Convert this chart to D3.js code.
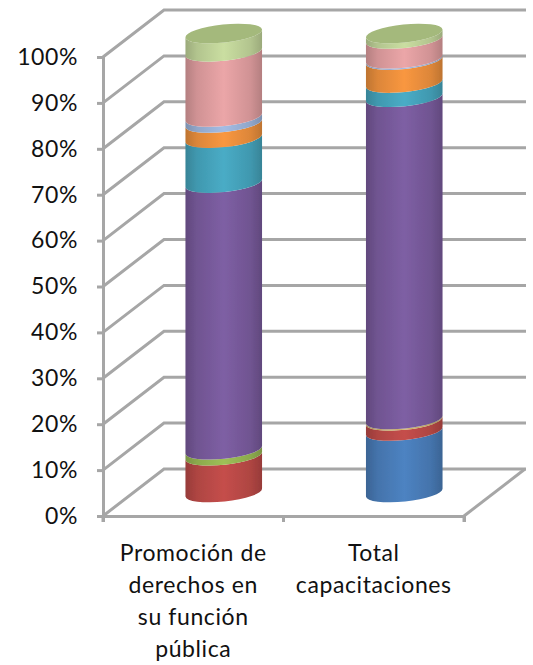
<!DOCTYPE html>
<html>
<head>
<meta charset="utf-8">
<script src="https://cdn.jsdelivr.net/npm/d3@7"></script>
<style>
  html, body { margin: 0; padding: 0; background: #fff; }
  svg { display: block; }
  text { font-family: Lato, "Open Sans", sans-serif; fill: #111; letter-spacing: 0.6px; }
</style>
</head>
<body>
<svg width="533" height="665"></svg>
<script>
var categories = ["Promoción de derechos en su función pública", "Total capacitaciones"];
var categoryLines = [["Promoción de", "derechos en", "su función", "pública"], ["Total", "capacitaciones"]];
var tickValues = [0, 10, 20, 30, 40, 50, 60, 70, 80, 90, 100];

var seriesNames = ["s1", "s2", "s3", "s4", "s5", "s6", "s7", "s8", "s9", "s10"];
var seriesColors = ["#4a7ebb", "#be4b48", "#98b954", "#c9b26b", "#7a5c9e", "#46a6bf", "#f0923e", "#9db5dc", "#e3a0a2", "#c3d69b"];
var promocion = [0, 8, 1.3, 0, 58.1, 9.8, 3.3, 1.3, 14.2, 4];
var total = [13.4, 2.2, 0, 0.3, 70.2, 3.1, 5, 0.3, 4.3, 1.2];

var svg = d3.select("svg");
var margin = { left: 103, right: 464, top: 57, bottom: 516 };
var depthX = 61, depthY = 47;
var grey = "#a6a6a6";

var x = d3.scaleBand().domain(categories).range([margin.left, margin.right]);
var y = d3.scaleLinear().domain([0, 100]).range([margin.bottom, margin.top]);
// the cylinders stand in the middle of the floor
var barY = d3.scaleLinear().domain([0, 100]).range([margin.bottom - depthY / 2, margin.top - depthY / 2]);

var rows = categories.map(function(c, i) {
  var row = { category: c };
  seriesNames.forEach(function(s, j) { row[s] = (i === 0 ? promocion : total)[j]; });
  return row;
});
var stacked = d3.stack().keys(seriesNames)(rows);

// walls
var walls = svg.append("g").attr("fill", "none").attr("stroke", grey).attr("stroke-width", 3);
walls.selectAll(".wall").data(tickValues).enter().append("path")
  .attr("class", "wall")
  .attr("d", function(d) {
    return "M" + margin.left + "," + y(d) + "L" + (margin.left + depthX) + "," + (y(d) - depthY) + "H" + (margin.right + depthX + 1);
  });
walls.append("path")
  .attr("d", "M" + margin.right + "," + margin.bottom + "L" + (margin.right + depthX) + "," + (margin.bottom - depthY));

// gradients for the round look
var defs = svg.append("defs");
seriesColors.forEach(function(c, i) {
  var g = defs.append("linearGradient").attr("id", "grad" + i);
  var dark = d3.color(c).darker(0.65);
  [[0, dark], [0.15, d3.color(c).darker(0.25)], [0.5, d3.color(c).brighter(0.1)], [0.85, d3.color(c).darker(0.25)], [1, dark]].forEach(function(s) {
    g.append("stop").attr("offset", s[0]).attr("stop-color", s[1]);
  });
});
defs.append("filter").attr("id", "soft").append("feGaussianBlur").attr("stdDeviation", 0.5);

var rx = 38.5, ry = 9, tilt = -6;
var dx = rx * Math.cos(tilt * Math.PI / 180), dy = rx * Math.sin(tilt * Math.PI / 180);

function segment(cx, v0, v1) {
  var y0 = barY(v0), y1 = barY(v1);
  return "M" + (cx - dx) + "," + (y0 - dy) +
    "A" + rx + "," + ry + " " + tilt + " 0 0 " + (cx + dx) + "," + (y0 + dy) +
    "L" + (cx + dx) + "," + (y1 + dy) +
    "A" + rx + "," + ry + " " + tilt + " 0 1 " + (cx - dx) + "," + (y1 - dy) + "Z";
}

function barCenter(c) { return x(c) + x.bandwidth() / 2 + depthX / 2; }

var bars = svg.append("g").attr("filter", "url(#soft)");
stacked.forEach(function(layer, i) {
  bars.selectAll(null)
    .data(layer.filter(function(d) { return d[1] > d[0]; }))
    .enter().append("path")
    .attr("d", function(d) { return segment(barCenter(d.data.category), d[0], d[1]); })
    .attr("fill", "url(#grad" + i + ")");
});

// top caps
bars.selectAll(".cap").data(categories).enter().append("ellipse")
  .attr("class", "cap")
  .attr("cx", barCenter)
  .attr("cy", barY(100))
  .attr("rx", rx)
  .attr("ry", ry)
  .attr("fill", "#a4b97c")
  .attr("transform", function(c) { return "rotate(" + tilt + " " + barCenter(c) + " " + barY(100) + ")"; });

// axes
var axisLeft = svg.append("g")
  .attr("transform", "translate(" + margin.left + ",0)")
  .call(d3.axisLeft(y).tickValues(tickValues).tickSize(6).tickPadding(19).tickFormat(function(d) { return d + "%"; }));
var axisBottom = svg.append("g")
  .attr("transform", "translate(0," + margin.bottom + ")")
  .call(d3.axisBottom(x).tickSize(6).tickFormat(""));
axisBottom.selectAll(".tick").remove();
axisBottom.selectAll(null)
  .data([margin.left, margin.left + x.bandwidth(), margin.right])
  .enter().append("line")
  .attr("x1", function(d) { return d; }).attr("x2", function(d) { return d; })
  .attr("y1", 0).attr("y2", 6);

svg.selectAll(".domain, .tick line").attr("stroke", grey).attr("stroke-width", 3);
axisBottom.selectAll("line").attr("stroke", grey).attr("stroke-width", 3);
axisLeft.selectAll("text").attr("font-size", 23).attr("font-family", "Lato").attr("fill", "#111");

// category labels
var labels = svg.append("g").attr("text-anchor", "middle").attr("font-size", 23);
categories.forEach(function(c, i) {
  labels.selectAll(null).data(categoryLines[i]).enter().append("text")
    .attr("x", x(c) + x.bandwidth() / 2)
    .attr("y", function(d, j) { return 561 + j * 32; })
    .text(function(d) { return d; });
});
</script>
</body>
</html>
